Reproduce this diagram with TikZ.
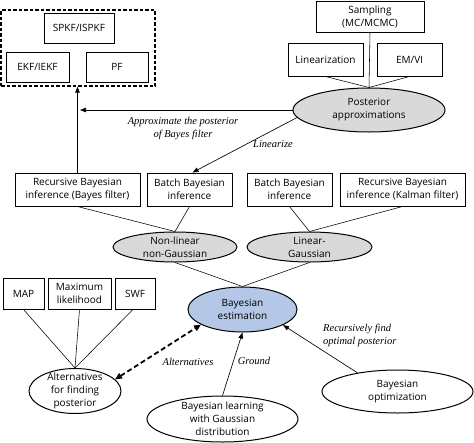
\documentclass[tikz,border=0pt]{standalone}
\usepackage{fontspec}
\setmainfont{Open Sans}
\newfontfamily\lblfont{Liberation Serif}
\usetikzlibrary{shapes.geometric,arrows.meta}
\definecolor{grayfill}{HTML}{D9D9D9}
\definecolor{bluefill}{HTML}{B4C7E7}
\begin{document}
\begin{tikzpicture}[x=1pt,y=-1pt,
  txt/.style={font=\fontsize{10}{13}\selectfont,align=center},
  box/.style={draw,line width=1pt,inner sep=1pt,txt},
  ell/.style={ellipse,draw,line width=1pt,inner sep=0pt},
  conn/.style={line width=0.55pt},
  arr/.style={line width=0.65pt,-{Triangle[length=6pt,width=4.5pt]}},
  lbl/.style={font=\lblfont\itshape\fontsize{10.5}{13}\selectfont,align=center,inner sep=1pt}]
\useasboundingbox (0,0) rectangle (474,442);
% top-left group
\node[draw,line width=1.3pt,dash pattern=on 3.5pt off 2pt,minimum width=154pt,minimum height=76pt] (grp) at (78,48) {};
\node[box,minimum width=70pt,minimum height=30pt] (spkf) at (79,28) {SPKF/ISPKF};
\node[box,minimum width=63pt,minimum height=30pt] (ekf) at (37.5,67) {EKF/IEKF};
\node[box,minimum width=62pt,minimum height=30pt] (pf) at (117,67) {PF};
% posterior approximations
\node[box,minimum width=108pt,minimum height=31pt] (samp) at (370,16.5) {Sampling\\(MC/MCMC)};
\node[box,minimum width=75pt,minimum height=33pt] (lin) at (325.5,59.5) {Linearization};
\node[box,minimum width=65pt,minimum height=33pt] (em) at (409.5,59.5) {EM/VI};
\node[ell,fill=grayfill,minimum width=152pt,minimum height=44pt,label={[txt]center:Posterior\\approximations}] (post) at (369,110) {};
% inference boxes
\node[box,minimum width=125pt,minimum height=33pt] (rb1) at (77.5,189.5) {Recursive Bayesian\\inference (Bayes filter)};
\node[box,minimum width=85pt,minimum height=33pt] (bb1) at (189.5,189.5) {Batch Bayesian\\inference};
\node[box,minimum width=85pt,minimum height=33pt] (bb2) at (289.5,189.5) {Batch Bayesian\\inference};
\node[box,minimum width=125pt,minimum height=33pt] (rb2) at (402.5,189.5) {Recursive Bayesian\\inference (Kalman filter)};
\node[ell,fill=grayfill,minimum width=124pt,minimum height=30pt,label={[txt]center:Non-linear\\non-Gaussian}] (nl) at (175,247) {};
\node[ell,fill=grayfill,minimum width=125pt,minimum height=30pt,label={[txt]center:Linear-\\Gaussian}] (lg) at (309.5,247) {};
% center
\node[ell,fill=bluefill,minimum width=109pt,minimum height=45pt,label={[txt]center:Bayesian\\estimation}] (be) at (242.5,309.5) {};
% alternatives
\node[box,minimum width=41pt,minimum height=31pt] (map) at (23.5,293.5) {MAP};
\node[box,minimum width=63pt,minimum height=31pt] (ml) at (79.5,293.5) {Maximum\\likelihood};
\node[box,minimum width=40pt,minimum height=31pt] (swf) at (135,293.5) {SWF};
\node[ell,minimum width=92pt,minimum height=45pt,label={[txt]center:Alternatives\\for finding\\posterior}] (alt) at (75,391) {};
\node[ell,minimum width=151pt,minimum height=46pt,label={[txt]center:Bayesian learning\\with Gaussian\\distribution}] (bl) at (222.5,419) {};
\node[ell,minimum width=151pt,minimum height=43pt,label={[txt]center:Bayesian\\optimization}] (bo) at (397.5,391.5) {};
% connectors
\draw[conn] (lin.south) -- (post.north);
\draw[conn] (em.south) -- (post.north);
\draw[conn] (samp.south) -- (post.north);
\draw[conn] (rb1.south) -- (nl.north);
\draw[conn] (bb1.south) -- (nl.north);
\draw[conn] (bb2.south) -- (lg.north);
\draw[conn] (rb2.south) -- (lg.north);
\draw[conn] (nl.south) -- (be.north);
\draw[conn] (lg.south) -- (be.north);
\draw[conn] (map.south) -- (alt.north);
\draw[conn] (ml.south) -- (alt.north);
\draw[conn] ([xshift=-2pt]swf.south) -- (alt.north);
\draw[arr] (rb1.north) -- (rb1.north |- grp.south);
\coordinate (hx) at (80,110);
\draw[arr] (post.west) -- (hx);
\draw[arr] (post.186) -- ([xshift=3pt]bb1.north);
\draw[line width=1.8pt,dash pattern=on 5pt off 3pt,{Triangle[length=7pt,width=6pt]}-{Triangle[length=7pt,width=6pt]}] ([shift={(4pt,-3pt)}]alt.22) -- (be.200);
\draw[arr] (bl.north) -- (be.south);
\draw[arr] (bo.155) -- (be.-21);
% labels
\node[lbl] (l1) at (183,128.5) {Approximate the posterior\\of Bayes filter};
\node[lbl] (l2) at (273,144) {Linearize};
\node[lbl] (l3) at (188,362) {Alternatives};
\node[lbl] (l4) at (254,361) {Ground};
\node[lbl,align=left,anchor=west] (l5) at (322,335.5) {Recursively find\\optimal posterior};
\end{tikzpicture}
\end{document}
